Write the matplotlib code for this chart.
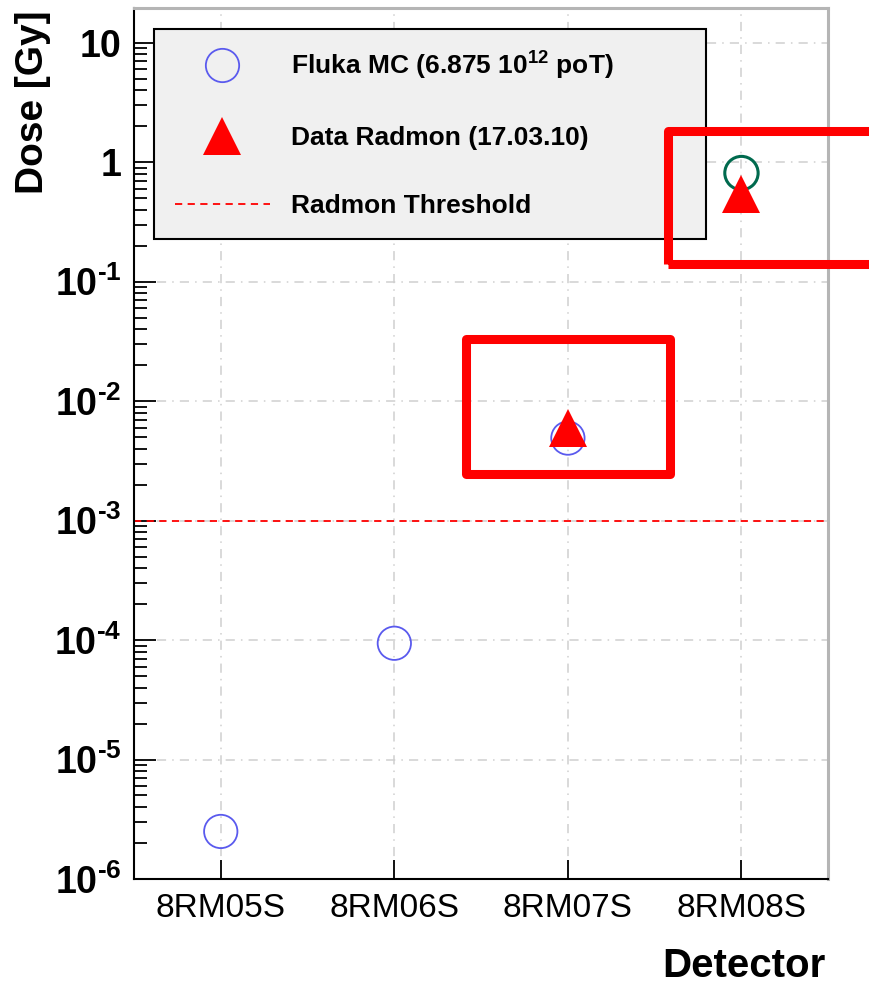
import numpy as np
import matplotlib.pyplot as plt
from matplotlib.lines import Line2D
from matplotlib.patches import Rectangle
from matplotlib.ticker import FixedLocator, LogLocator, NullFormatter

plt.rcParams['font.family'] = 'Liberation Sans'
plt.rcParams['mathtext.fontset'] = 'custom'
plt.rcParams['mathtext.rm'] = 'Liberation Sans:bold'
plt.rcParams['mathtext.default'] = 'rm'

# data
detectors = ['8RM05S', '8RM06S', '8RM07S', '8RM08S']
fluka_dose = [2.5e-6, 9.4e-5, 4.9e-3, 0.81]
fluka_color = ['#5a5aee', '#5a5aee', '#5a5aee', '#006a4e']
radmon_idx = [2, 3]
radmon_dose = [5.9e-3, 0.54]
threshold = 1e-3

ytick_vals = [1e-6, 1e-5, 1e-4, 1e-3, 1e-2, 1e-1, 1, 10]
ytick_labels = [r'$10^{\text{-}6}$', r'$10^{\text{-}5}$', r'$10^{\text{-}4}$', r'$10^{\text{-}3}$',
                r'$10^{\text{-}2}$', r'$10^{\text{-}1}$', '1', '10']

W, H = 870.0, 984.0
fig = plt.figure(figsize=(8.7, 9.84), dpi=100)
ax = fig.add_axes([0.154, 0.1067, 0.798, 0.8852])

x = np.arange(len(detectors))
ax.set_yscale('log')
ax.set_xlim(-0.5, 3.5)
ax.set_ylim(1e-6, 19.5)

# grid
ax.grid(True, which='major', color='#cfcfcf', linestyle=(0, (6, 4, 1, 4)), linewidth=1.1)
ax.set_axisbelow(True)

# threshold
ax.axhline(threshold, color='red', linestyle=(0, (4, 3)), linewidth=1.3, zorder=2)

# fluka circles
ax.scatter(x, fluka_dose, s=24**2, facecolors='none', edgecolors=fluka_color,
           linewidths=[1.3, 1.3, 1.3, 2.2], zorder=3)
# radmon triangles
ax.plot(radmon_idx, radmon_dose, linestyle='none', marker='^', markersize=27,
        color='red', markeredgewidth=0, zorder=4)

# ticks
ax.set_xticks(x)
ax.set_xticklabels(detectors, fontsize=24)
ax.yaxis.set_major_locator(FixedLocator(ytick_vals))
ax.set_yticklabels(ytick_labels, fontsize=27, fontweight='bold')
ax.yaxis.set_minor_locator(LogLocator(base=10, subs=np.arange(2, 10), numticks=20))
ax.yaxis.set_minor_formatter(NullFormatter())
ax.tick_params(axis='y', which='major', direction='in', length=16, width=1.3, pad=9)
ax.tick_params(axis='y', which='minor', direction='in', length=9, width=1.3)
ax.tick_params(axis='x', which='major', direction='in', length=14, width=1.3, pad=10)

for s in ['left', 'bottom']:
    ax.spines[s].set_linewidth(1.5)
for s in ['top', 'right']:
    ax.spines[s].set_color('#b5b5b5')
    ax.spines[s].set_linewidth(2.2)

# axis titles
fig.text(33 / W, 1 - 10 / H, 'Dose [Gy]', rotation=90, ha='center', va='top',
         fontsize=28, fontweight='bold')
fig.text(826 / W, 1 - 977 / H, 'Detector', ha='right', va='baseline',
         fontsize=29, fontweight='bold')

# legend
handles = [
    Line2D([], [], linestyle='none', marker='o', markersize=24, markerfacecolor='none',
           markeredgecolor='#5a5aee', markeredgewidth=1.3),
    Line2D([], [], linestyle='none', marker='^', markersize=27, color='red', markeredgewidth=0),
    Line2D([], [], color='red', linestyle=(0, (4, 3)), linewidth=1.3),
]
labels = ['Fluka MC (6.875 $10^{12}$ poT)', 'Data Radmon (17.03.10)', 'Radmon Threshold']
leg = ax.legend(handles, labels, loc='upper left', bbox_to_anchor=(0.029, 0.736, 0.795, 0.24),
                mode='expand', borderaxespad=0, fancybox=False, framealpha=1,
                facecolor='#f0f0f0', edgecolor='black', handlelength=3.6,
                handletextpad=0.8, labelspacing=1.68, borderpad=0.78,
                prop={'family': 'Liberation Sans', 'weight': 'bold', 'size': 19})
leg.get_frame().set_linewidth(1.5)

# red highlight boxes (figure pixel positions)
def box(x0, y0, x1, y1):
    r = Rectangle((x0 / W, 1 - y1 / H), (x1 - x0) / W, (y1 - y0) / H,
                  transform=fig.transFigure, fill=False, edgecolor='red',
                  linewidth=6.5, joinstyle='round', clip_on=False)
    fig.patches.append(r)

box(668.5, 131, 880, 264)
box(466, 339.5, 670, 473.5)

fig.savefig('out.png', dpi=100)
